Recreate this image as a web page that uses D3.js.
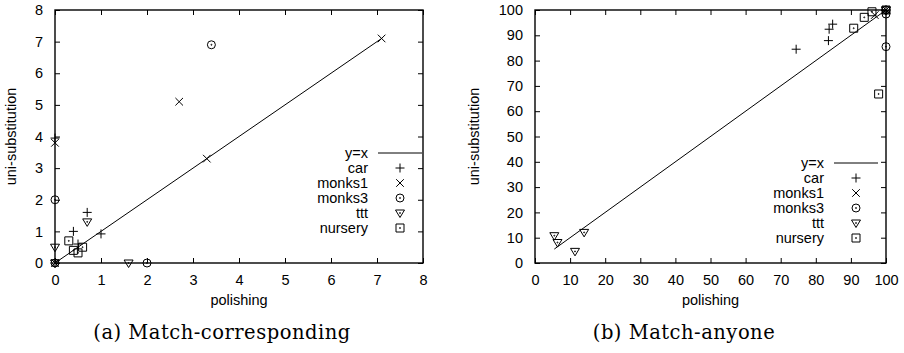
<!DOCTYPE html>
<html>
<head>
<meta charset="UTF-8" />
<script src="https://d3js.org/d3.v7.min.js"></script>
<style>
  body { margin: 0; background: #fff; }
  svg { display: block; }
  text { font-family: "Liberation Sans", Arial, sans-serif; fill: #000; }
  .caption { font-family: "DejaVu Serif", "Liberation Serif", serif; letter-spacing: 0.5px; }
</style>
</head>
<body>
<svg id="chart" width="904" height="353"></svg>
<script>
// ---- data ----
const seriesNames = ["car", "monks1", "monks3", "ttt", "nursery"];
const markerTypes = ["plus", "cross", "circle", "triangle", "square"];

// (a) Match-corresponding : [polishing, uni-substitution]
const carA     = [[0, 0], [0, 3.95], [0.4, 1.0], [0.7, 1.6], [1.0, 0.92], [0.5, 0.6]];
const monks1A  = [[0, 0], [0, 3.8], [2.7, 5.1], [3.3, 3.3], [7.1, 7.1]];
const monks3A  = [[0, 0], [0, 2.0], [2.0, 0], [3.4, 6.9]];
const tttA     = [[0, 0], [0, 0.5], [0.7, 1.3], [1.6, 0]];
const nurseryA = [[0.3, 0.7], [0.4, 0.4], [0.5, 0.32], [0.6, 0.5]];

// (b) Match-anyone
const carB     = [[74.4, 84.5], [83.6, 87.9], [83.8, 92.4], [84.8, 94.4], [100, 100]];
const monks1B  = [[96.8, 98.0], [100, 100]];
const monks3B  = [[100, 85.5], [100, 98.4], [100, 100]];
const tttB     = [[5.5, 10.8], [6.4, 8.1], [11.4, 4.6], [14.0, 12.1], [100, 100]];
const nurseryB = [[90.8, 92.8], [93.8, 97.1], [96.0, 99.3], [97.9, 66.8], [100, 100]];

const ticksA = [0, 1, 2, 3, 4, 5, 6, 7, 8];
const ticksB = [0, 10, 20, 30, 40, 50, 60, 70, 80, 90, 100];

const svg = d3.select("#chart");

// gnuplot-like point symbols
function marker(type) {
  const p = d3.path();
  if (type === "plus") {
    p.moveTo(-4.5, 0); p.lineTo(4.5, 0); p.moveTo(0, -4.5); p.lineTo(0, 4.5);
  } else if (type === "cross") {
    p.moveTo(-3.8, -3.8); p.lineTo(3.8, 3.8); p.moveTo(-3.8, 3.8); p.lineTo(3.8, -3.8);
  } else if (type === "circle") {
    p.arc(0, 0, 4, 0, 2 * Math.PI); p.closePath();
    p.moveTo(0.5, 0); p.arc(0, 0, 0.5, 0, 2 * Math.PI);
  } else if (type === "triangle") {
    p.moveTo(-4.5, -3); p.lineTo(4.5, -3); p.lineTo(0, 4.5); p.closePath();
    p.moveTo(0.5, 0); p.arc(0, 0, 0.5, 0, 2 * Math.PI);
  } else {
    p.rect(-4, -4, 8, 8);
    p.moveTo(0.5, 0); p.arc(0, 0, 0.5, 0, 2 * Math.PI);
  }
  return p.toString();
}

function panel(cfg) {
  const x = d3.scaleLinear().domain(cfg.domain).range([cfg.left, cfg.right]);
  const y = d3.scaleLinear().domain(cfg.domain).range([cfg.bottom, cfg.top]);
  const g = svg.append("g");

  // ticks (inward, mirrored)
  const axes = [
    [d3.axisBottom(x).tickSizeInner(-5), `translate(0,${cfg.bottom})`, true],
    [d3.axisTop(x).tickSizeInner(-5), `translate(0,${cfg.top})`, false],
    [d3.axisLeft(y).tickSizeInner(-5), `translate(${cfg.left},0)`, true],
    [d3.axisRight(y).tickSizeInner(-5), `translate(${cfg.right},0)`, false]
  ];
  axes.forEach(([ax, tr, labels]) => {
    const a = g.append("g").attr("transform", tr)
      .call(ax.tickValues(cfg.ticks).tickSizeOuter(0).tickPadding(labels ? 12 : 0).tickFormat(labels ? d3.format("d") : ""));
    a.select(".domain").remove();
    a.selectAll("line").attr("stroke", "#000").attr("stroke-width", 1);
    a.selectAll("text").style("font-size", "14.5px").style("font-family", null);
  });

  g.append("rect")
    .attr("x", cfg.left).attr("y", cfg.top)
    .attr("width", cfg.right - cfg.left).attr("height", cfg.bottom - cfg.top)
    .attr("fill", "none").attr("stroke", "#000").attr("stroke-width", 1.4);

  // y = x over the range of the data
  const allX = d3.extent(cfg.series.flat(), d => d[0]);
  g.append("line")
    .attr("x1", x(allX[0])).attr("y1", y(allX[0]))
    .attr("x2", x(allX[1])).attr("y2", y(allX[1]))
    .attr("stroke", "#000").attr("stroke-width", 1);

  cfg.series.forEach((pts, i) => {
    g.selectAll(null).data(pts).join("path")
      .attr("transform", d => `translate(${x(d[0])},${y(d[1])})`)
      .attr("d", marker(markerTypes[i]))
      .attr("fill", "none").attr("stroke", "#000").attr("stroke-width", 1);
  });

  // axis titles
  g.append("text")
    .attr("x", (cfg.left + cfg.right) / 2).attr("y", 305)
    .attr("text-anchor", "middle").style("font-size", "14.5px")
    .text("polishing");
  g.append("text")
    .attr("transform", `translate(${cfg.ylabelX},${(cfg.top + cfg.bottom) / 2}) rotate(-90)`)
    .attr("text-anchor", "middle").style("font-size", "14.5px")
    .text("uni-substitution");

  // legend
  const lg = g.append("g").attr("transform", `translate(${cfg.legendX},${cfg.legendY})`);
  const entries = ["y=x"].concat(seriesNames);
  entries.forEach((name, i) => {
    const row = lg.append("g").attr("transform", `translate(0,${i * 15})`);
    row.append("text").attr("x", 0).attr("dy", "0.35em")
      .attr("text-anchor", "end").style("font-size", "14.5px").text(name);
    if (i === 0) {
      row.append("line").attr("x1", 10).attr("x2", 54)
        .attr("stroke", "#000").attr("stroke-width", 1);
    } else {
      row.append("path").attr("transform", "translate(32,0)")
        .attr("d", marker(markerTypes[i - 1]))
        .attr("fill", "none").attr("stroke", "#000").attr("stroke-width", 1);
    }
  });

  svg.append("text").attr("class", "caption")
    .attr("x", cfg.captionX).attr("y", 339)
    .attr("text-anchor", "middle").style("font-size", "19.5px")
    .text(cfg.caption);
}

panel({
  domain: [0, 8], ticks: ticksA,
  left: 55, right: 423, top: 10, bottom: 263,
  series: [carA, monks1A, monks3A, tttA, nurseryA],
  ylabelX: 16, legendX: 368, legendY: 153,
  captionX: 222, caption: "(a) Match-corresponding"
});

panel({
  domain: [0, 100], ticks: ticksB,
  left: 535, right: 886, top: 10, bottom: 263,
  series: [carB, monks1B, monks3B, tttB, nurseryB],
  ylabelX: 479, legendX: 824, legendY: 163,
  captionX: 684, caption: "(b) Match-anyone"
});
</script>
</body>
</html>
